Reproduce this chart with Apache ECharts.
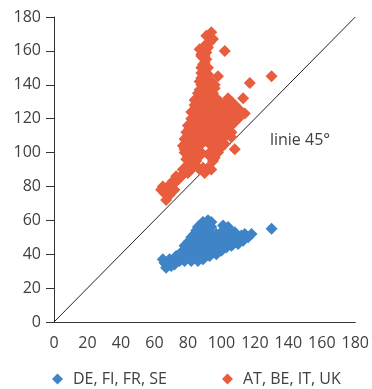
<!DOCTYPE html>
<html>
<head>
<meta charset="utf-8">
<script src="https://cdn.jsdelivr.net/npm/echarts@6/dist/echarts.min.js"></script>
<style>
  html, body { margin: 0; padding: 0; background: #fff; }
  #chart { width: 372px; height: 389px; }
</style>
</head>
<body>
<div id="chart"></div>
<script>
// Axis ticks (both axes share the same 0–180 scale)
const axisTicks = [0, 20, 40, 60, 80, 100, 120, 140, 160, 180];

// Series names
const seriesNames = ['DE, FI, FR, SE', 'AT, BE, IT, UK'];

// DE, FI, FR, SE — [x, y]
const groupA = [
  [130,55],[118,52],[114,52],[111,49],[107,46],[109,50],[104,56],[101,57],[104,52],[100,53],
  [94,59],[92,60],[89,59],[87,57],[85,54],[88,55],[91,56],[94,56],[97,52],
  [93,52],[89,52],[86,51],[83,48],[87,48],[91,49],[95,48],[99,48],[102,47],[98,45],
  [94,44],[90,44],[86,44],[82,45],[79,44],[77,42],[80,41],[84,41],[88,41],[92,40],
  [96,42],[90,38],[86,37],[83,38],[79,38],[76,39],[74,37],[72,36],[70,35],[67,34],
  [65,37],[67,32],[72,34],[105,48],
  [78,36],[82,36],[86,36],[89,37],[93,39],[97,40],[100,42],[103,44],[106,45],[110,46],
  [113,48],[116,50],[112,51],[108,53],[105,54],[102,55],[93,57],[90,57],
  [86,56],[84,52],[82,50],[80,47],[78,45],[75,40],[73,39],[69,37],[66,35],[70,33],
  [75,36],[81,43],[85,46],[89,46],[93,46],[97,47],[100,50],[103,50],[106,49],[90,42],
  [94,42],[98,43],[87,39],[82,40],[92,54],[96,50],[88,50],[84,45]
];

// AT, BE, IT, UK — [x, y]
const groupB = [
  [94,171],[91,169],[95,167],[87,161],[91,159],[102,160],[89,156],[90,153],[88,150],[90,148],
  [89,145],[91,143],[98,145],[88,140],[96,140],[87,137],[90,136],[93,134],[86,132],[89,131],
  [130,145],[117,141],[113,132],[106,130],[114,123],[106,116],[108,102],[97,104],
  [84,128],[87,127],[91,128],[95,129],[99,130],[102,128],[104,126],[100,124],[96,125],[92,124],
  [88,123],[84,123],[82,120],[86,120],[90,120],[94,121],[98,121],[102,121],[106,121],[110,120],
  [108,118],[104,118],[100,118],[96,117],[92,116],[88,117],[84,116],[80,116],[79,112],[83,112],
  [87,113],[91,113],[95,113],[99,114],[103,113],[106,112],[101,110],[97,110],[93,109],[89,109],
  [85,109],[81,108],[78,108],[77,104],[80,104],[84,105],[88,105],[93,106],[99,107],[102,105],
  [96,102],[86,101],[82,101],[78,100],[79,96],[83,97],[87,98],[80,93],[84,93],
  [77,90],[80,88],[76,86],[74,84],[72,82],[70,80],[68,78],[65,80],[66,76],[67,72],
  [69,75],[72,78],[93,98],[95,95],[92,91],[89,91],[90,88],[94,90],[87,90],[98,100],[100,103],
  [82,124],[86,124],[90,125],[93,127],[97,127],[100,126],[103,124],[107,123],[109,121],[105,119],
  [101,116],[97,115],[93,118],[89,119],[85,118],[81,114],[85,111],[89,111],[93,111],[97,112],
  [101,112],[104,115],[95,107],[91,107],[87,107],[83,107],[79,106],[78,102],[81,102],[85,103],
  [94,104],[80,98],[84,99],[88,100],[81,95],[85,95],[79,91],[82,90],[78,88],[75,85],
  [73,86],[71,83],[69,81],[66,78],[68,74],[70,77],[96,97],[91,90],[93,100],[87,131],
  [91,130],[89,133],[91,134],[92,138],[89,138],[90,141],[92,146],[90,150],[89,152],[91,155],
  [90,157],[88,158],[92,162],[94,131],[97,132],[104,132],[110,126],[112,124],[108,128],[95,122],
  [99,119],[103,110],[106,109],[96,138],[94,142],[88,134],[86,126],[83,118],[80,110],[98,107],
  [88,144],[92,150],[88,147],[91,146],[93,141],[87,142],[90,139],[93,137],[86,135],[84,131],
  [88,128],[92,132],[95,135],[84,110],[82,105],[86,105],[93,165],[90,163],[88,157],[64,78]
];

// 45° reference line
const diagonal = [[0, 0], [180, 180]];
const diagonalLabel = 'linie 45°';

const colors = ['#3f84c6', '#e95d3f'];
const textColor = '#404040';
const fontFamily = '"Open Sans", "Noto Sans", sans-serif';
const fontSize = 16;

const chart = echarts.init(document.getElementById('chart'));

const axisCommon = {
  type: 'value',
  min: axisTicks[0],
  max: axisTicks[axisTicks.length - 1],
  interval: axisTicks[1] - axisTicks[0],
  splitLine: { show: false },
  axisLine: { show: true, lineStyle: { color: '#333', width: 1 } },
  axisLabel: { color: textColor, fontSize: fontSize, fontFamily: fontFamily }
};

const legendCommon = {
  top: 371,
  padding: 0,
  icon: 'diamond',
  itemWidth: 11,
  itemHeight: 11,
  textStyle: {
    color: textColor,
    fontSize: fontSize,
    fontFamily: fontFamily,
    padding: [0, 0, 0, 5]
  }
};

chart.setOption({
  animation: false,
  color: colors,
  grid: { left: 54, right: 14, top: 17, bottom: 67, containLabel: false },
  xAxis: Object.assign({}, axisCommon, {
    axisTick: { show: false },
    axisLabel: Object.assign({}, axisCommon.axisLabel, { margin: 13 })
  }),
  yAxis: Object.assign({}, axisCommon, {
    axisTick: { show: true, length: 8, lineStyle: { color: '#333' } },
    axisLabel: Object.assign({}, axisCommon.axisLabel, { margin: 13 })
  }),
  legend: [
    Object.assign({ data: [seriesNames[0]], left: 52 }, legendCommon),
    Object.assign({ data: [seriesNames[1]], left: 222 }, legendCommon)
  ],
  series: [
    {
      name: seriesNames[0],
      type: 'scatter',
      symbol: 'diamond',
      symbolSize: 12,
      itemStyle: { opacity: 1 },
      data: groupA,
      z: 3
    },
    {
      name: seriesNames[1],
      type: 'scatter',
      symbol: 'diamond',
      symbolSize: 12,
      itemStyle: { opacity: 1 },
      data: groupB,
      z: 3
    },
    {
      name: 'diagonal',
      type: 'line',
      data: diagonal,
      symbol: 'none',
      silent: true,
      lineStyle: { color: '#222', width: 1 },
      z: 2,
      markPoint: {
        symbol: 'circle',
        symbolSize: 0,
        data: [{ coord: [147, 107], value: diagonalLabel }],
        label: {
          show: true,
          formatter: diagonalLabel,
          color: textColor,
          fontSize: fontSize,
          fontFamily: fontFamily
        }
      }
    }
  ]
});
</script>
</body>
</html>
